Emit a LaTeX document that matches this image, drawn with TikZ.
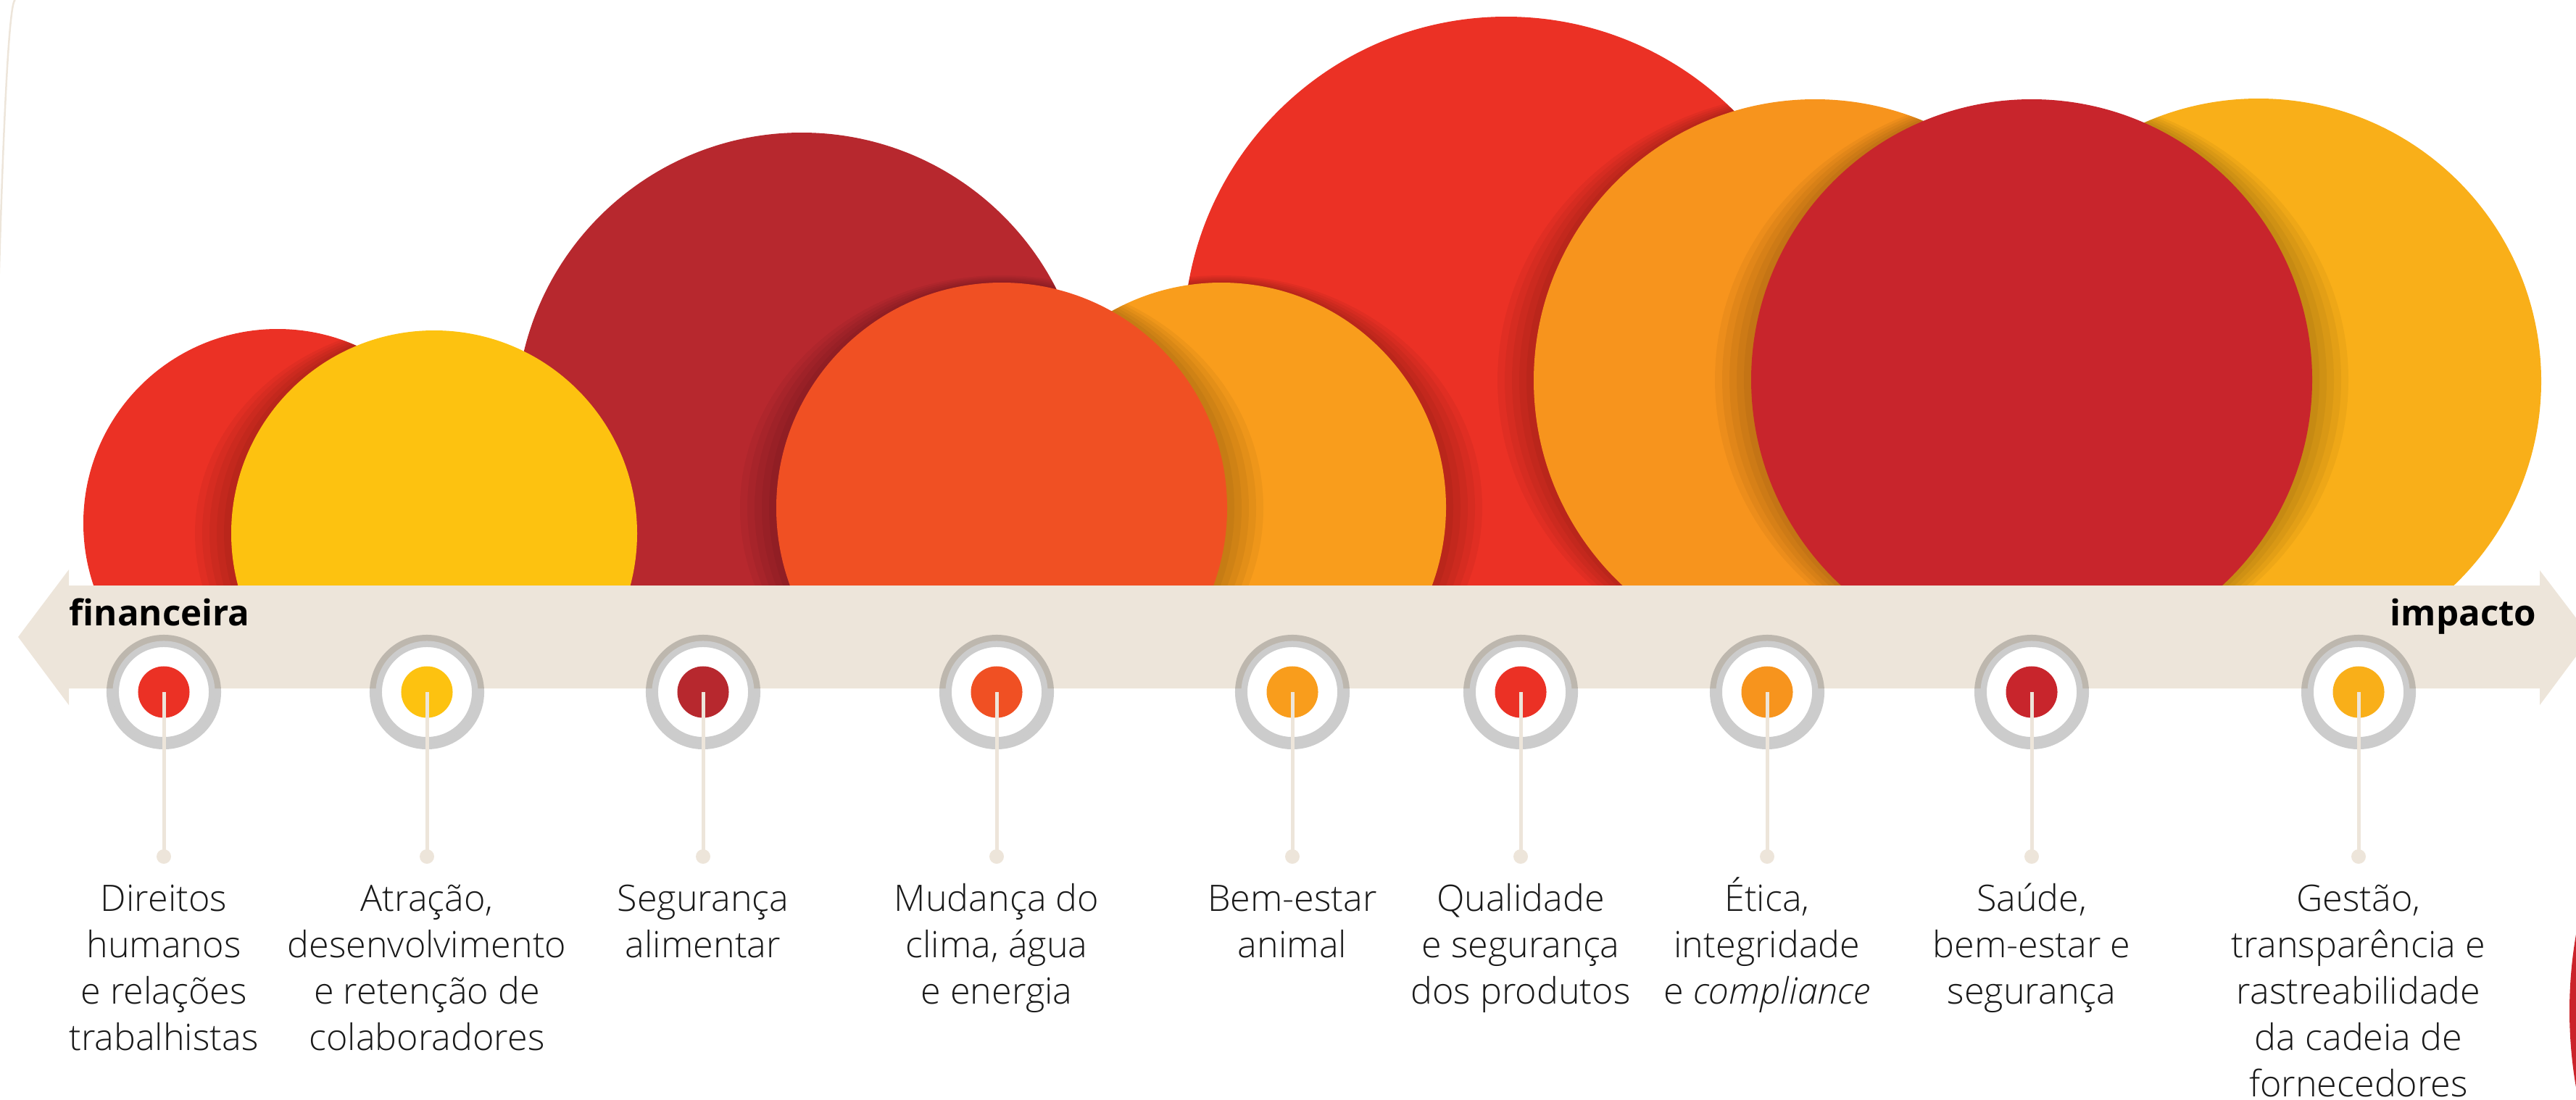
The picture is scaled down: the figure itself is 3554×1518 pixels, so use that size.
\documentclass[tikz,border=0pt]{standalone}
\usepackage{fontspec}
\IfFontExistsTF{Open Sans Light}
	{\setmainfont{Open Sans Light}[BoldFont={Open Sans Bold}, ItalicFont={Open Sans Light Italic}]}
	{\setmainfont{Open Sans}}
\newfontfamily\endsfont{Open Sans}
\usepackage{tikz}
\usetikzlibrary{positioning}
\definecolor{bandgrey}{HTML}{EDE5DA}
\definecolor{textgrey}{HTML}{1A1A1A}
\definecolor{cRed}{HTML}{EB3125}
\definecolor{cYellow}{HTML}{FDC210}
\definecolor{cWine}{HTML}{B7282E}
\definecolor{cVermilion}{HTML}{F05023}
\definecolor{cAmber}{HTML}{F99D1C}
\definecolor{cOrange}{HTML}{F7941D}
\definecolor{cCrimson}{HTML}{C8252C}
\definecolor{cGold}{HTML}{F9AF19}
%% soft shadow round a bubble: x, y, radius
\newcommand{\bubbleshadow}[3]{%
  \foreach \k in {10,20,30,40,50}
    \fill[black, opacity=0.045] (#1,#2) ellipse [x radius={#3+\k}, y radius={#3+\k/5}];}

\begin{document}
\begin{tikzpicture}[x=0.01cm, y=-0.01cm,
		ring/.style={circle, minimum size=1.41cm, inner sep=0pt, fill=white,
		draw=black, draw opacity=0.2, line width=0.17cm},
		core/.style={circle, minimum size=0.71cm, inner sep=0pt},
		knob/.style={circle, minimum size=0.2cm, inner sep=0pt, fill=bandgrey},
		stem/.style={draw=bandgrey, line width=0.05cm},
		topic/.style={align=center, anchor=base, inner sep=0pt, text=textgrey,
		font=\fontsize{14.3}{18.2}\selectfont},
		ends/.style={inner sep=0pt, text=black, font=\endsfont\fontsize{14}{17}\selectfont\bfseries}]
	\useasboundingbox (0,0) rectangle (3554,1518);
	\clip (0,0) rectangle (3554,1518);
	%% Bubbles
	\begin{scope}
		\clip (0,0) rectangle (3554,808);
		\fill[cRed] (383,722) circle (268);
		\fill[cWine] (1106,577) circle (394);
		\fill[cRed] (2078,468) circle (445);
		\begin{scope}
			\clip (383,722) circle (268);
			\bubbleshadow{599}{736}{280}
		\end{scope}
		\fill[cYellow] (599,736) circle (280);
		\begin{scope}
			\clip (2078,468) circle (445);
			\bubbleshadow{1685}{700}{310}
		\end{scope}
		\fill[cAmber] (1685,700) circle (310);
		\begin{scope}
			\clip (1106,577) circle (394);
			\bubbleshadow{1382}{701}{311}
		\end{scope}
		\begin{scope}
			\clip (1685,700) circle (310);
			\bubbleshadow{1382}{701}{311}
		\end{scope}
		\fill[cVermilion] (1382,701) circle (311);
		\begin{scope}
			\clip (2078,468) circle (445);
			\bubbleshadow{2504}{525}{388}
		\end{scope}
		\fill[cOrange] (2504,525) circle (388);
		\fill[cGold] (3116,526) circle (390);
		\begin{scope}
			\clip (2504,525) circle (388);
			\bubbleshadow{2803}{524}{387}
		\end{scope}
		\begin{scope}
			\clip (3116,526) circle (390);
			\bubbleshadow{2803}{524}{387}
		\end{scope}
		\fill[cCrimson] (2803,524) circle (387);
	\end{scope}
	%% Edge marks
	\draw[bandgrey, line width=0.025cm] (21,0) parabola (-3,440);
	\fill[cCrimson!95!red] (4162,1395) circle (617);
	%% Double arrow
	\fill[bandgrey] (95,808) -- (3504,808) -- (3504,787) -- (3574,879) -- (3504,973)
		-- (3504,950) -- (95,950) -- (95,973) -- (25,879) -- (95,786) -- cycle;
	\node[ends, anchor=base west] (fin) at (95,863) {financeira};
	\node[ends, anchor=base east] (imp) at (3500,863) {impacto};
	%% Markers
	\node[ring] (ring1) at (226,955) {};
	\node[ring] (ring2) at (589,955) {};
	\node[ring] (ring3) at (970,955) {};
	\node[ring] (ring4) at (1375,955) {};
	\node[ring] (ring5) at (1783,955) {};
	\node[ring] (ring6) at (2098,955) {};
	\node[ring] (ring7) at (2438,955) {};
	\node[ring] (ring8) at (2803,955) {};
	\node[ring] (ring9) at (3254,955) {};
	\node[core, fill=cRed] (core1) at (ring1) {};
	\node[core, fill=cYellow] (core2) at (ring2) {};
	\node[core, fill=cWine] (core3) at (ring3) {};
	\node[core, fill=cVermilion] (core4) at (ring4) {};
	\node[core, fill=cAmber] (core5) at (ring5) {};
	\node[core, fill=cRed] (core6) at (ring6) {};
	\node[core, fill=cOrange] (core7) at (ring7) {};
	\node[core, fill=cCrimson] (core8) at (ring8) {};
	\node[core, fill=cGold] (core9) at (ring9) {};
	\node[knob] (knob1) at (226,1182) {};
	\node[knob] (knob2) at (589,1182) {};
	\node[knob] (knob3) at (970,1182) {};
	\node[knob] (knob4) at (1375,1182) {};
	\node[knob] (knob5) at (1783,1182) {};
	\node[knob] (knob6) at (2098,1182) {};
	\node[knob] (knob7) at (2438,1182) {};
	\node[knob] (knob8) at (2803,1182) {};
	\node[knob] (knob9) at (3254,1182) {};
	\path[stem] (core1.center) -- (knob1.center);
	\path[stem] (core2.center) -- (knob2.center);
	\path[stem] (core3.center) -- (knob3.center);
	\path[stem] (core4.center) -- (knob4.center);
	\path[stem] (core5.center) -- (knob5.center);
	\path[stem] (core6.center) -- (knob6.center);
	\path[stem] (core7.center) -- (knob7.center);
	\path[stem] (core8.center) -- (knob8.center);
	\path[stem] (core9.center) -- (knob9.center);
	%% Topics (anchored on the baseline of their last line)
	\node[topic] (topic1) at (226,1449) {Direitos\\humanos\\e relações\\trabalhistas};
	\node[topic] (topic2) at (589,1449) {Atração,\\desenvolvimento\\e retenção de\\colaboradores};
	\node[topic] (topic3) at (970,1321) {Segurança\\alimentar};
	\node[topic] (topic4) at (1375,1385) {Mudança do\\clima, água\\e energia};
	\node[topic] (topic5) at (1783,1321) {Bem-estar\\animal};
	\node[topic] (topic6) at (2098,1385) {Qualidade\\e segurança\\dos produtos};
	\node[topic] (topic7) at (2438,1385) {Ética,\\integridade\\e \textit{compliance}};
	\node[topic] (topic8) at (2803,1385) {Saúde,\\bem-estar e\\segurança};
	\node[topic] (topic9) at (3254,1513) {Gestão,\\transparência e\\rastreabilidade\\da cadeia de\\fornecedores};
\end{tikzpicture}
\end{document}
